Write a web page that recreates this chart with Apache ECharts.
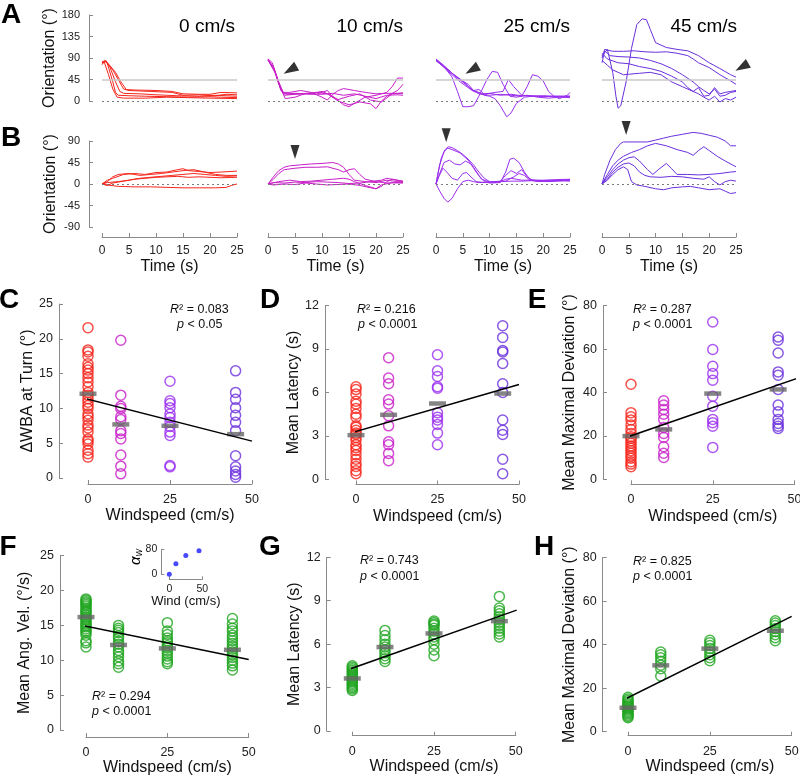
<!DOCTYPE html>
<html><head><meta charset="utf-8">
<script src="https://cdn.jsdelivr.net/npm/echarts@6/dist/echarts.min.js"></script>
<style>html,body{margin:0;padding:0;background:#fff}#c{width:800px;height:776px}</style>
</head><body><div id="c"></div>
<script>
// ---------------- DATA ----------------
const speeds = [0, 10, 25, 45];
const speedTitles = ['0 cm/s', '10 cm/s', '25 cm/s', '45 cm/s'];
const timeTicks = [0, 5, 10, 15, 20, 25];
const orientTicksA = [0, 45, 90, 135, 180];
const orientTicksB = [-90, -45, 0, 45, 90];
const windTicks = [0, 25, 50];
const refLevelA = 45;
const zeroLevel = 0;

// Row A traces [time s, orientation deg]
const trajA0 = [
  [[0,80],[0.5,84],[1,78],[2,40],[2.5,18],[3,12],[5,11],[8,10],[12,9],[16,8],[20,9],[22,8],[25,7]],
  [[0,78],[0.7,85],[1.5,70],[2.5,40],[3.3,20],[4,16],[7,15],[10,13],[14,11],[18,10],[21,12],[25,10]],
  [[0,82],[0.6,84],[2,65],[3,45],[4,25],[5,22],[9,20],[13,18],[15,12],[18,13],[21,11],[23,14],[25,13]],
  [[0,80],[0.8,83],[2.5,60],[3.5,40],[4.5,24],[6,23],[10,22],[13,20],[15,15],[18,14],[20,14],[22,18],[25,17]],
  [[0,76],[0.4,82],[1.2,55],[2,25],[2.8,8],[4,6],[8,6],[12,8],[16,7],[20,6],[25,5]]
];
const trajA10 = [
  [[0,88],[0.8,80],[1.5,55],[2.3,25],[3,12],[5,14],[8,16],[10,20],[12,10],[14,-8],[15,-12],[16,-5],[18,8],[20,12],[22,18],[23,30],[24,48],[25,48]],
  [[0,86],[1,72],[2,40],[2.8,18],[4,18],[6,22],[8,18],[10,8],[11,2],[12,14],[13,22],[14,26],[16,22],[18,18],[20,15],[22,16],[25,16]],
  [[0,85],[1.2,65],[2.2,30],[3.2,5],[5,8],[7,16],[9,18],[11,15],[13,0],[15,-8],[17,-2],[19,-6],[20,-16],[21,0],[22,10],[24,22],[25,35]],
  [[0,87],[1,70],[2,35],[3,15],[5,16],[8,15],[10,14],[12,16],[14,12],[16,15],[18,10],[20,5],[22,12],[24,13],[25,12]],
  [[0,86],[1.5,55],[2.5,20],[3.5,14],[6,15],[9,14],[11,22],[12,8],[13,3],[15,10],[17,15],[19,2],[21,-2],[23,15],[25,17]]
];
const trajA25 = [
  [[0,86],[1.5,72],[3,50],[4,20],[5,-12],[6,-12],[7,-10],[8,10],[9.5,45],[10.5,62],[11.5,60],[12.5,35],[13.8,10],[15,8],[17,12],[19,8],[21,6],[23,8],[25,9]],
  [[0,85],[1.5,70],[3,55],[4.5,40],[6,28],[7,20],[8,18],[9,12],[10,10],[11,5],[12,-10],[13.2,-33],[14,-25],[15,-5],[16.5,8],[18,10],[20,10],[22,9],[25,7]],
  [[0,87],[1.5,72],[3,58],[5,42],[6.5,25],[8,15],[10,12],[12,14],[14,12],[16,10],[17,30],[18,55],[19,52],[20,42],[21,20],[22,10],[23,5],[24.5,12],[25,18]],
  [[0,84],[2,68],[4,48],[5.5,35],[7,22],[8,24],[9,14],[11,18],[12.5,20],[13.5,45],[14.5,30],[16,12],[18,10],[20,11],[22,10],[25,10]],
  [[0,88],[1.5,74],[3,58],[4.5,45],[6,35],[7,22],[8.5,15],[10,16],[12,12],[14,14],[16,11],[18,11],[20,9],[22,10],[25,10]]
];
const trajA45 = [
  [[0,95],[1,108],[2,60],[2.6,10],[3,-15],[3.5,-10],[4.5,40],[5.5,110],[6.5,160],[7.5,172],[8.3,170],[9,150],[10,122],[12,112],[14,108],[16,105],[18,95],[20,80],[22,68],[24,55],[25,50]],
  [[0,90],[0.5,108],[2,104],[4,104],[6,105],[8,103],[10,102],[12,103],[14,100],[16,95],[17,88],[18,80],[20,70],[22,55],[24,42],[25,35]],
  [[0,80],[0.5,105],[1.5,95],[3,93],[5,92],[7,90],[9,85],[11,78],[13,68],[15,55],[17,40],[18,30],[19,22],[20,15],[21,25],[22,10],[23,12],[24,18],[25,20]],
  [[0,100],[1,88],[3,80],[5,78],[7,72],[9,68],[11,62],[13,52],[15,40],[16,28],[17,20],[18,15],[19,8],[20,2],[21,10],[22,-2],[23,5],[24,2],[25,8]],
  [[0,85],[1,75],[2,65],[3,60],[4,55],[5,56],[7,58],[9,60],[11,55],[13,40],[15,30],[17,20],[18,28],[19,10],[20,12],[21,28],[22,15],[23,18],[24,20],[25,22]]
];
// Row B traces
const trajB0 = [
  [[0,0],[1,8],[2,12],[4,20],[6,22],[8,20],[10,24],[12,25],[14,30],[15,32],[16,28],[18,26],[20,24],[22,25],[25,27]],
  [[0,0],[1,5],[2,15],[3,20],[5,22],[7,18],[9,20],[11,22],[13,25],[15,28],[17,30],[19,25],[21,20],[23,18],[25,18]],
  [[0,0],[1,3],[3,5],[5,8],[7,12],[9,14],[11,16],[13,18],[15,20],[17,22],[19,20],[21,18],[23,16],[25,17]],
  [[0,0],[1,-3],[2,2],[4,6],[6,10],[8,12],[10,14],[12,15],[14,16],[16,14],[18,15],[20,14],[22,13],[25,14]],
  [[0,0],[1,-2],[3,-5],[6,-6],[9,-6],[12,-7],[15,-8],[18,-8],[21,-8],[23,-7],[24,-3],[25,0]]
];
const trajB10 = [
  [[0,0],[1,15],[2,28],[3,35],[4,38],[6,40],[8,42],[10,43],[12,45],[13,42],[14,35],[15,20],[16,8],[18,5],[20,3],[22,8],[24,5],[25,4]],
  [[0,0],[1,10],[2,22],[3,30],[5,33],[7,35],[9,35],[11,36],[13,30],[14,25],[15,30],[16,32],[17,20],[18,10],[20,5],[22,2],[25,3]],
  [[0,0],[2,5],[4,8],[6,5],[8,6],[10,8],[12,10],[14,12],[15,10],[16,5],[18,-3],[20,-10],[21,-5],[22,5],[23,10],[25,5]],
  [[0,0],[1,3],[3,2],[5,4],[7,3],[9,5],[11,4],[13,3],[15,1],[17,2],[19,5],[21,8],[22,12],[23,10],[25,6]],
  [[0,0],[1,-2],[3,0],[5,-1],[7,2],[9,0],[11,-2],[13,-1],[15,0],[17,-3],[19,-8],[20,-10],[21,-2],[23,3],[25,2]]
];
const trajB25 = [
  [[0,0],[0.5,30],[1,55],[1.7,72],[2.3,78],[3,76],[4,70],[5,62],[6,52],[7,40],[8,25],[9,12],[10,5],[11,3],[12,5],[13,10],[14,12],[15,10],[16,8],[18,8],[20,8],[22,9],[25,10]],
  [[0,0],[0.7,40],[1.5,68],[2.2,75],[3,72],[4.5,65],[6,50],[7,35],[8,18],[9,5],[10,2],[12,3],[13,25],[13.8,52],[14.5,54],[15.5,45],[16.5,25],[17.5,10],[19,6],[21,5],[25,8]],
  [[0,0],[0.8,25],[1.5,45],[2.5,50],[3.5,42],[4.5,40],[5.5,48],[6.5,42],[7.5,25],[8.5,10],[10,4],[12,6],[13,18],[14,28],[15,22],[16,30],[17,15],[18,8],[20,7],[22,7],[25,6]],
  [[0,0],[0.5,15],[1.3,33],[2,25],[3,12],[4,8],[5,22],[5.7,24],[6.5,15],[7.5,5],[9,3],[11,4],[13,6],[14.5,15],[15.5,22],[16.5,18],[17.5,8],[19,5],[21,6],[23,7],[25,8]],
  [[0,0],[0.7,-15],[1.5,-30],[2.2,-38],[3,-30],[4,-10],[5,5],[6,8],[7,5],[8,3],[10,4],[12,5],[14,6],[16,6],[18,7],[20,6],[22,7],[25,9]]
];
const trajB45 = [
  [[0,0],[0.5,20],[1.5,50],[2.5,72],[3.5,85],[4,88],[6,88],[8.5,88],[10,92],[11.5,96],[13,100],[15,104],[17,108],[18.5,106],[20,102],[21.5,98],[23,90],[24,80],[25,80]],
  [[0,0],[1,20],[2,38],[3,50],[4,58],[5.5,66],[7,72],[8.5,80],[10,85],[12,80],[14,72],[16,66],[17,60],[18,70],[19,78],[20,70],[21.5,58],[23,48],[25,36]],
  [[0,0],[1,15],[2,30],[3,42],[4,50],[5,55],[6,57],[7,48],[8.5,30],[9.5,20],[10.5,30],[12,43],[13,32],[14,20],[16,20],[18,19],[20,20],[22,22],[24,25],[25,26]],
  [[0,0],[1,10],[2,25],[3,35],[4,42],[5,44],[6,38],[7,25],[8,18],[9,15],[11,14],[13,16],[15,15],[17,12],[19,10],[20,15],[21,5],[22,-2],[23,5],[24,8],[25,6]],
  [[0,0],[1,8],[2,20],[3,30],[4,36],[4.8,30],[5.5,5],[6.5,-2],[8,-5],[10,-10],[11.5,-12],[13,-8],[15,-6],[16.5,-5],[18,-8],[20,-12],[22,-10],[23,-15],[24,-20],[25,-18]]
];
// arrowheads [time, deg] for columns 10, 25, 45 cm/s
const arrowA = [[4.1, 65], [6.7, 65], [26.1, 71]];
const arrowB = [[5.0, 67], [1.9, 102], [4.5, 117]];

// Panel C: dWBA at turn
const wbaTicks = [0, 5, 10, 15, 20, 25];
const wbaTurn = [
  [21.6,18.4,18.1,17.5,16.4,15.9,15.5,15.0,14.4,13.8,13.1,12.3,11.9,11.4,10.9,10.4,10.0,9.2,8.8,8.3,7.6,7.2,6.6,5.6,5.3,4.9,4.0,3.5,3.0],
  [19.8,11.9,10.3,10.0,8.8,8.4,6.8,6.4,5.6,3.3,1.7,0.6],
  [13.9,11.1,10.7,10.1,9.2,8.7,8.0,7.4,6.6,6.1,1.8,1.6],
  [15.4,12.3,11.3,10.1,9.0,8.0,6.8,3.2,1.6,1.0,0.5,0.1]
];
const wbaTurnMean = [12.1, 7.7, 7.5, 6.3];
const wbaTurnFit = [[-5.8, 12.0], [50, 5.3]];

// Panel D: mean latency (first set)
const latTicks = [0, 3, 6, 9, 12];
const latency1 = [
  [6.4,6.2,5.9,5.4,5.2,4.9,4.5,4.3,3.7,3.6,3.4,3.2,3.1,2.9,2.7,2.4,2.2,2.0,1.7,1.4,1.1,0.9,0.6,0.4],
  [8.4,7.0,6.6,5.5,5.2,4.4,3.7,2.6,2.4,1.8,1.3],
  [8.6,7.5,7.1,6.4,6.3,4.6,4.3,4.1,3.8,3.2,2.4],
  [10.6,9.8,8.9,8.8,8.0,6.6,6.0,4.1,3.4,3.1,1.4,0.4]
];
const latency1Mean = [3.06, 4.46, 5.24, 5.93];
const latency1Fit = [[-6.3, 2.9], [50, 6.55]];

// Panel E: mean maximal deviation (first set)
const devTicks = [0, 20, 40, 60, 80];
const deviation1 = [
  [43.8,30.7,28.8,27.3,25.0,23.0,21.1,19.6,18.9,17.8,16.6,15.3,14.3,13.2,12.0,10.7,9.7,8.1,7.0,5.8],
  [36.2,34.2,32.2,30.0,27.6,23.9,21.1,19.3,15.0,12.0,10.1],
  [72.5,59.8,52.1,48.7,45.7,38.3,33.7,27.6,26.1,24.5,14.7],
  [65.6,64.1,58.2,49.5,48.0,41.4,34.2,31.1,27.6,25.7,24.5,23.4]
];
const deviation1Mean = [19.9, 23.0, 39.5, 41.4];
const deviation1Fit = [[-5.5, 17.2], [51, 46.6]];

// Panel F: mean angular velocity (model)
const angTicks = [0, 5, 10, 15, 20, 25];
const angVel = [
  [18.8,18.6,18.4,18.2,18.0,17.8,17.5,17.2,17.0,16.8,16.5,16.2,16.0,15.8,15.5,15.2,15.0,14.8,14.5,14.2,14.0,13.6,12.8,12.5,11.9],
  [15.0,14.6,14.3,14.0,13.5,13.2,12.7,12.3,11.9,11.4,11.0,10.5,9.9,9.5,9.0],
  [15.4,14.2,13.7,13.2,12.8,12.5,12.1,11.8,11.4,11.0,10.6,10.2,9.8,9.5],
  [16.0,15.2,14.6,14.2,13.6,13.2,12.8,12.4,12.0,11.6,11.2,10.8,10.4,10.0,9.6,9.2,8.6]
];
const angVelMean = [16.2, 12.2, 11.7, 11.5];
const angVelFit = [[-5.4, 15.4], [50, 10.1]];
// inset: alpha_w vs wind
const insetXTicks = [0, 50];
const insetYTicks = [0, 80];
const alphaW = [0, 34, 60, 75];

// Panel G: mean latency (model)
const latency2 = [
  [4.5,4.4,4.3,4.2,4.1,4.0,3.9,3.8,3.7,3.6,3.5,3.4,3.3,3.2,3.1,3.0,2.9,2.8],
  [6.95,6.6,6.3,6.0,5.8,5.6,5.4,5.2,5.0,4.8],
  [7.6,7.5,7.4,7.3,7.1,6.9,6.7,6.5,6.3,6.0,5.6,5.2],
  [9.3,8.5,8.3,8.1,7.9,7.7,7.5,7.3,7.1,6.9,6.7,6.5]
];
const latency2Mean = [3.63, 5.8, 6.74, 7.59];
const latency2Fit = [[-6.8, 3.8], [50.3, 8.35]];

// Panel H: mean maximal deviation (model)
const deviation2 = [
  [15.8,15.0,14.3,13.6,13.0,12.4,11.8,11.2,10.6,10.0,9.4,8.8,8.2,7.6,7.0,6.4],
  [36.6,35.4,34.0,32.4,30.6,29.0,25.6],
  [42.0,40.9,39.6,38.2,36.8,35.4,34.0,32.6],
  [51.0,50.0,48.8,47.4,46.0,44.6,43.2,41.8]
];
const deviation2Mean = [11.0, 30.5, 38.2, 46.4];
const deviation2Fit = [[-4.0, 12.7], [50, 53.0]];

const r2Values = ['0.083', '0.216', '0.287', '0.294', '0.743', '0.825'];
const pValues = ['0.05', '0.0001', '0.0001', '0.0001', '0.0001', '0.0001'];

// ---------------- STYLE / LAYOUT ----------------
const FONT = '"Liberation Sans", Arial, Helvetica, sans-serif';
const speedColors = ['#f5261c', '#c81ec8', '#9a2ef0', '#6a30dc'];
const green = '#1fa51f';
const axisGray = '#8a8a8a';

const grids = [], xAxes = [], yAxes = [], series = [];
function addGrid(g) {
  grids.push(Object.assign({ outerBoundsMode: 'none', containLabel: false }, g));
  return grids.length - 1;
}
function baseAxis(gi, ticks, extra) {
  return Object.assign({
    type: 'value', gridIndex: gi,
    min: ticks[0], max: ticks[ticks.length - 1], interval: ticks[1] - ticks[0],
    axisLine: { show: true, onZero: false, lineStyle: { color: axisGray, width: 1 } },
    axisTick: { show: true, inside: true, length: 4, lineStyle: { color: axisGray } },
    axisLabel: { color: '#222', fontSize: 12.5, fontFamily: FONT },
    splitLine: { show: false },
    nameLocation: 'middle',
    nameTextStyle: { color: '#111', fontSize: 16, fontFamily: FONT }
  }, extra);
}
function hiddenAxis(gi, ticks) {
  return { type: 'value', gridIndex: gi, min: ticks[0], max: ticks[ticks.length - 1], show: false, splitLine: { show: false } };
}

// top rows
const topCols = [{ left: 102, width: 135 }, { left: 268, width: 135 }, { left: 436, width: 134 }, { left: 602, width: 134 }];
const trajRowA = [trajA0, trajA10, trajA25, trajA45];
const trajRowB = [trajB0, trajB10, trajB25, trajB45];

function traceSeries(gi, traces, color) {
  traces.forEach(tr => series.push({
    type: 'line', xAxisIndex: gi, yAxisIndex: gi, data: tr, showSymbol: false, symbol: 'none',
    clip: false, silent: true, z: 3, lineStyle: { color: color, width: 1 }
  }));
}
function refSeries(gi, levels) {
  series.push({
    type: 'line', xAxisIndex: gi, yAxisIndex: gi, data: [], z: 1, silent: true,
    markLine: {
      silent: true, symbol: 'none', label: { show: false }, animation: false,
      data: levels.map(l => ({ yAxis: l.v, lineStyle: l.style }))
    }
  });
}
const solidRef = { color: '#c9c9c9', width: 1.5, type: 'solid' };
const dotRef = { color: '#7a7a7a', width: 1.2, type: [2, 3] };

topCols.forEach((c, k) => {
  // Row A
  const ga = addGrid({ left: c.left, width: c.width, top: 15, height: 86 });
  xAxes.push(hiddenAxis(ga, timeTicks));
  if (k === 0) {
    yAxes.push(baseAxis(ga, orientTicksA, {
      offset: 13, name: 'Orientation (°)', nameGap: 30,
      axisLabel: { color: '#222', fontSize: 11, fontFamily: FONT, margin: 9 }
    }));
  } else yAxes.push(hiddenAxis(ga, orientTicksA));
  refSeries(ga, [{ v: refLevelA, style: solidRef }, { v: zeroLevel, style: dotRef }]);
  traceSeries(ga, trajRowA[k], speedColors[k]);
  if (k > 0) series.push({
    type: 'scatter', xAxisIndex: ga, yAxisIndex: ga, data: [arrowA[k - 1]], symbol: 'triangle',
    symbolSize: [10, 15], symbolRotate: 120, itemStyle: { color: '#000' }, clip: false, silent: true, z: 6
  });
  // Row B
  const gb = addGrid({ left: c.left, width: c.width, top: 141, height: 86 });
  xAxes.push(baseAxis(gb, timeTicks, {
    offset: 10, name: 'Time (s)', nameGap: 22,
    axisLabel: { color: '#222', fontSize: 12, fontFamily: FONT, margin: 8 }
  }));
  if (k === 0) {
    yAxes.push(baseAxis(gb, orientTicksB, {
      offset: 13, name: 'Orientation (°)', nameGap: 30,
      axisLabel: { color: '#222', fontSize: 11, fontFamily: FONT, margin: 9 }
    }));
  } else yAxes.push(hiddenAxis(gb, orientTicksB));
  refSeries(gb, [{ v: zeroLevel, style: dotRef }]);
  traceSeries(gb, trajRowB[k], speedColors[k]);
  if (k > 0) series.push({
    type: 'scatter', xAxisIndex: gb, yAxisIndex: gb, data: [arrowB[k - 1]], symbol: 'triangle',
    symbolSize: [9, 14], symbolRotate: 180, itemStyle: { color: '#000' }, clip: false, silent: true, z: 6
  });
});

// scatter panels
const panels = [
  { vals: wbaTurn, mean: wbaTurnMean, fit: wbaTurnFit, ticks: wbaTicks, yName: 'ΔWBA at Turn (°)', colors: speedColors,
    g: { left: 88, top: 304, width: 164, height: 174 }, yOff: 29, xOff: 6, yGap: 20, xGap: 24 },
  { vals: latency1, mean: latency1Mean, fit: latency1Fit, ticks: latTicks, yName: 'Mean Latency (s)', colors: speedColors,
    g: { left: 356, top: 305.5, width: 163, height: 174 }, yOff: 31, xOff: 5, yGap: 22, xGap: 24 },
  { vals: deviation1, mean: deviation1Mean, fit: deviation1Fit, ticks: devTicks, yName: 'Mean Maximal Deviation (°)', colors: speedColors,
    g: { left: 631, top: 305.7, width: 163.5, height: 173.6 }, yOff: 28, xOff: 5, yGap: 25, xGap: 24 },
  { vals: angVel, mean: angVelMean, fit: angVelFit, ticks: angTicks, yName: 'Mean Ang. Vel. (°/s)', colors: [green, green, green, green],
    g: { left: 86, top: 555.7, width: 162.7, height: 174.3 }, yOff: 26, xOff: 7, yGap: 27, xGap: 22 },
  { vals: latency2, mean: latency2Mean, fit: latency2Fit, ticks: latTicks, yName: 'Mean Latency (s)', colors: [green, green, green, green],
    g: { left: 352.3, top: 557.3, width: 163.4, height: 173.7 }, yOff: 25.6, xOff: 4.7, yGap: 23, xGap: 22 },
  { vals: deviation2, mean: deviation2Mean, fit: deviation2Fit, ticks: devTicks, yName: 'Mean Maximal Deviation (°)', colors: [green, green, green, green],
    g: { left: 628, top: 557.7, width: 163.7, height: 174 }, yOff: 25.3, xOff: 4, yGap: 25, xGap: 22 }
];
panels.forEach(p => {
  const gi = addGrid(p.g);
  xAxes.push(baseAxis(gi, windTicks, {
    offset: p.xOff, name: 'Windspeed (cm/s)', nameGap: p.xGap,
    axisLabel: { color: '#222', fontSize: 12.5, fontFamily: FONT, margin: 9 }
  }));
  yAxes.push(baseAxis(gi, p.ticks, {
    offset: p.yOff, name: p.yName, nameGap: p.yGap,
    axisLabel: { color: '#222', fontSize: 12.5, fontFamily: FONT, margin: 6 }
  }));
  p.vals.forEach((vs, k) => series.push({
    type: 'scatter', xAxisIndex: gi, yAxisIndex: gi, data: vs.map(v => [speeds[k], v]),
    symbol: 'circle', symbolSize: 10, silent: true, clip: false, z: 3,
    itemStyle: { color: 'rgba(255,255,255,0)', borderColor: p.colors[k], borderWidth: 1.5 }
  }));
  series.push({
    type: 'scatter', xAxisIndex: gi, yAxisIndex: gi, data: p.mean.map((m, k) => [speeds[k], m]),
    symbol: 'rect', symbolSize: [17, 4.5], silent: true, z: 4, itemStyle: { color: '#666666' }
  });
  series.push({
    type: 'line', xAxisIndex: gi, yAxisIndex: gi, data: p.fit, showSymbol: false, symbol: 'none',
    clip: false, silent: true, z: 5, lineStyle: { color: '#000', width: 1.5 }
  });
});

// inset in F
const gin = addGrid({ left: 169.3, top: 549.3, width: 33, height: 25 });
xAxes.push(baseAxis(gin, insetXTicks, {
  offset: 5, name: 'Wind (cm/s)', nameGap: 13,
  axisTick: { show: true, inside: true, length: 3, lineStyle: { color: axisGray } },
  axisLabel: { color: '#222', fontSize: 10.5, fontFamily: FONT, margin: 4 },
  nameTextStyle: { color: '#111', fontSize: 13, fontFamily: FONT }
}));
yAxes.push(baseAxis(gin, insetYTicks, {
  offset: 8,
  axisTick: { show: true, inside: true, length: 3, lineStyle: { color: axisGray } },
  axisLabel: { color: '#222', fontSize: 10.5, fontFamily: FONT, margin: 4 }
}));
series.push({
  type: 'scatter', xAxisIndex: gin, yAxisIndex: gin, data: alphaW.map((a, k) => [speeds[k], a]),
  symbol: 'circle', symbolSize: 5, silent: true, clip: false, itemStyle: { color: '#1a1aff' }
});

// graphic texts
const gfx = [];
function txt(x, y, text, font, align, extra) {
  gfx.push(Object.assign({
    type: 'text', x: x, y: y, silent: true,
    style: Object.assign({ text: text, font: font, fill: '#000', align: align || 'left', verticalAlign: 'middle',
      textAlign: align || 'left', textVerticalAlign: 'middle' }, (extra && extra.style) || {})
  }, extra && extra.rotation ? { rotation: extra.rotation } : {}));
}
const letterFont = 'bold 28px ' + FONT;
[['A', 11, 15], ['B', 11, 138], ['C', 9, 300], ['D', 270, 300], ['E', 537, 300], ['F', 8, 547], ['G', 270, 547], ['H', 544, 547]]
  .forEach(l => txt(l[1], l[2], l[0], letterFont, 'center'));
const titleRight = [235, 403, 570, 737];
speedTitles.forEach((t, k) => txt(titleRight[k], 27, t, '19px ' + FONT, 'right'));
const statPos = [[170, 310, 177, 325], [357, 310, 358, 325], [633, 310, 633, 325], [92, 697, 92, 712], [360, 561, 360, 577], [633, 562, 633, 577]];
const statRich = { i: { fontStyle: 'italic', fontSize: 12.5, fontFamily: FONT, fill: '#111' }, n: { fontSize: 12.5, fontFamily: FONT, fill: '#111' } };
statPos.forEach((s, k) => {
  txt(s[0], s[1], '{i|R}{n|² = ' + r2Values[k] + '}', '12.5px ' + FONT, 'left', { style: { rich: statRich } });
  txt(s[2], s[3], '{i|p}{n| < ' + pValues[k] + '}', '12.5px ' + FONT, 'left', { style: { rich: statRich } });
});
txt(136, 557, '{a|α}{w|w}', 'italic 15px ' + FONT, 'center', {
  rotation: Math.PI / 2,
  style: { rich: { a: { fontStyle: 'italic', fontSize: 15, fontFamily: FONT }, w: { fontStyle: 'italic', fontSize: 10, fontFamily: FONT, padding: [6, 0, 0, 0] } } }
});

const chart = echarts.init(document.getElementById('c'), null, { renderer: 'canvas' });
chart.setOption({
  backgroundColor: '#ffffff',
  animation: false,
  textStyle: { fontFamily: FONT },
  grid: grids, xAxis: xAxes, yAxis: yAxes, series: series, graphic: { elements: gfx }
});
</script></body></html>
